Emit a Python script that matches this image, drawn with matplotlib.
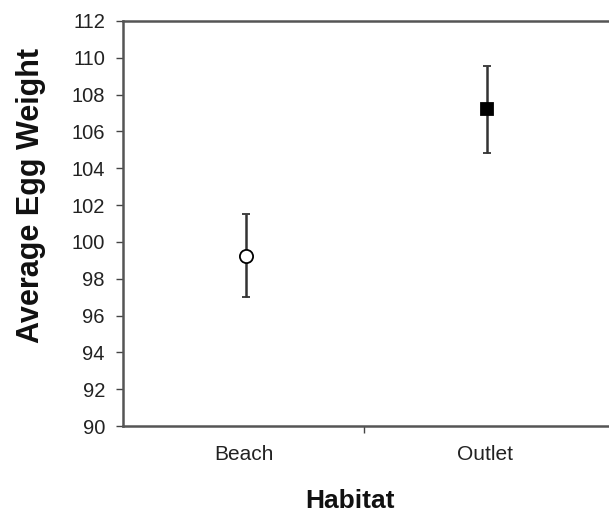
import matplotlib.pyplot as plt
import numpy as np

# dane
habitats = ["Beach", "Outlet"]
means = [99.25, 107.2]
errors = [2.25, 2.35]
markers = ["o", "s"]
face_colors = ["white", "black"]
y_ticks = list(range(90, 113, 2))

plt.rcParams['font.family'] = ['Liberation Sans', 'DejaVu Sans']

fig = plt.figure(figsize=(6.09, 5.15), dpi=100)
ax = fig.add_axes([123/609, (515-426)/515, 1 - 123/609, (426-21)/515])

x_pos = np.arange(len(habitats)) + 0.5
for x, m, e, mk, fc in zip(x_pos, means, errors, markers, face_colors):
    ax.errorbar(x + 0.01, m, yerr=e, fmt=mk, color='#333333', mfc=fc, mec='black',
                ms=9 if mk == 's' else 9.5, mew=1.3, elinewidth=1.8, capsize=3, capthick=1.3,
                zorder=3)

ax.set_xlim(0, 2 * (609 - 123) / (605 - 123))
ax.set_ylim(90, 112)
ax.set_yticks(y_ticks)
ax.set_xticks([1])
ax.set_xticklabels([])
ax.set_xticks(x_pos, minor=True)
ax.set_xticklabels(habitats, minor=True)
ax.tick_params(axis='x', which='minor', length=0, pad=14, labelsize=15, labelcolor='#222222')
ax.tick_params(axis='x', which='major', length=5, width=1, color='#444444', direction='out')
ax.tick_params(axis='y', length=5, width=1, color='#444444', direction='out', pad=8,
               labelsize=14.5, labelcolor='#222222')

for s in ['left', 'bottom', 'top']:
    ax.spines[s].set_color('#555555')
    ax.spines[s].set_linewidth(1.8)
ax.spines['right'].set_visible(False)

fig.text(31/609, 1 - 196/515, "Average Egg Weight", rotation=90, fontsize=22,
         fontweight='bold', ha='center', va='center', color='#111111')
fig.text(350/609, 1 - 501/515, "Habitat", fontsize=19, fontweight='bold',
         ha='center', va='center', color='#111111')

fig.savefig("out.png", dpi=100)
